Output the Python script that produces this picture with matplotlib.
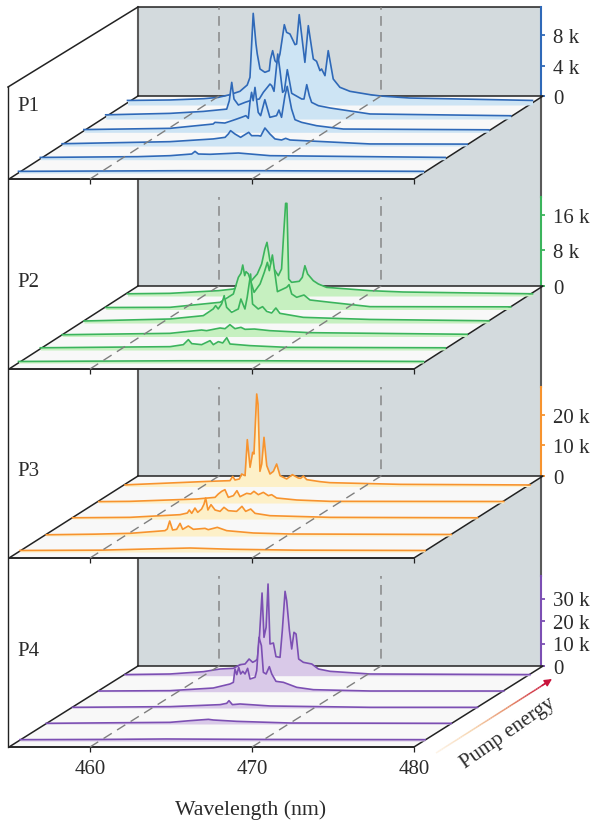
import numpy as np
import matplotlib
matplotlib.use('Agg')
import matplotlib.pyplot as plt
from matplotlib.collections import LineCollection
from matplotlib.colors import LinearSegmentedColormap
from matplotlib.transforms import Affine2D

plt.rcParams['font.family'] = ['Liberation Serif', 'DejaVu Serif']

W, H = 593, 829

# spectra: wavelength (nm) and counts (thousands), front trace first
p1_wl = [
    [455, 465, 470, 480],
    [455, 461, 463.01, 464.35, 464.55, 464.76, 465.48, 467.23, 469.18, 480],
    [455, 461.66, 464.33, 465.06, 465.26, 465.40, 465.67, 466.02, 466.35, 466.52, 466.70, 467.11, 467.26, 467.52,
     467.83, 468.14, 468.55, 468.80, 469.07, 474, 480],
    [455, 460.31, 462.98, 463.09, 463.70, 464.32, 464.73, 465.0, 465.15, 465.25, 465.35, 465.45, 465.56, 465.76,
     465.91, 466.17, 466.48, 466.89, 467.04, 467.20, 467.41, 467.55, 467.82, 468.03, 468.44, 469.36, 471.01, 480],
    [455, 458.97, 461.03, 462.47, 462.63, 462.78, 462.92, 463.19, 463.60, 463.91, 464.48, 464.73, 464.98, 465.14,
     465.25, 465.39, 465.62, 465.76, 465.92, 466.03, 466.21, 466.34, 466.48, 467.10, 467.24, 467.41, 467.57, 467.71,
     468.13, 468.85, 471.32, 480],
    [455, 457.62, 459.7, 460.6, 461.32, 461.94, 462.39, 462.56, 462.76, 462.93, 463.01, 463.18, 463.48, 463.75,
     463.83, 463.96, 464.10, 464.25, 464.41, 464.68, 464.82, 465.03, 465.34, 465.44, 465.60, 465.95, 466.16, 466.47,
     466.67, 466.88, 466.98, 467.19, 467.39, 467.70, 468.11, 468.73, 469.97, 470.65, 472.4, 480],
]
p1_k = [
    [0.22, 0.3, 0.3, 0.22],
    [0.3, 0.4, 0.53, 0.75, 1.10, 0.75, 0.71, 0.88, 0.53, 0.3],
    [0.3, 0.57, 0.93, 1.14, 1.58, 2.02, 1.58, 1.14, 1.58, 1.80, 1.36, 1.36, 1.30, 2.37,
     1.58, 0.93, 0.79, 1.01, 0.79, 0.27, 0.25],
    [0.36, 0.52, 1.09, 1.31, 1.22, 1.66, 1.97, 2.19, 1.84, 3.94, 5.26, 4.16, 5.91, 2.62,
     2.19, 4.29, 1.97, 2.19, 2.93, 1.97, 4.82, 6.05, 3.06, 1.66, 1.31, 0.87, 0.43, 0.33],
    [0.55, 0.74, 1.0, 1.3, 2.41, 4.82, 2.63, 1.84, 2.19, 2.41, 2.63, 3.51, 4.17, 4.60,
     4.38, 3.64, 8.55, 6.36, 3.51, 3.73, 6.49, 5.04, 3.38, 2.63, 2.63, 4.52, 3.07, 2.19,
     1.75, 1.45, 0.66, 0.43],
    [0.6, 0.66, 0.83, 1.0, 1.36, 1.8, 2.63, 3.64, 12.06, 8.03, 6.71, 4.74, 4.30, 4.52,
     6.05, 7.15, 5.83, 5.48, 6.71, 10.57, 9.56, 9.34, 7.94, 8.03, 11.89, 5.61, 10.44, 6.05,
     5.75, 4.52, 4.74, 3.86, 7.15, 3.42, 2.33, 1.80, 1.36, 1.18, 0.92, 0.6],
]

p2_wl = [
    [455, 465, 470, 480],
    [455, 463.01, 463.83, 464.14, 464.35, 464.96, 465.48, 465.68, 465.99, 466.26, 466.51, 466.71, 467.95, 470.21, 480],
    [455, 461.66, 463.61, 463.92, 464.75, 465.06, 465.36, 465.67, 466.04, 466.29, 466.87, 467.83, 470.30, 480],
    [455, 460.31, 462.37, 462.98, 463.13, 463.29, 463.50, 463.66, 463.81, 464.12, 464.53, 464.69, 464.94, 465.08,
     465.29, 465.41, 465.76, 466.03, 466.28, 466.59, 466.85, 467.10, 468.54, 472.65, 480],
    [455, 458.97, 462.06, 462.88, 463.19, 463.35, 463.46, 463.58, 463.66, 463.81, 463.91, 464.16, 464.53, 464.79,
     464.98, 465.10, 465.29, 465.45, 465.60, 466.17, 466.32, 466.48, 466.79, 467.24, 467.61, 468.85, 471.32, 480],
    [455, 457.62, 460.62, 461.53, 462.56, 463.01, 463.28, 463.48, 463.61, 463.71, 463.79, 464.04, 464.31, 464.51,
     464.64, 464.76, 464.84, 464.95, 465.13, 465.60, 465.79, 465.95, 466.12, 466.47, 466.78, 467.29, 469.97, 472, 480],
]
p2_k = [
    [0.35, 0.5, 0.5, 0.35],
    [0.5, 0.75, 1.2, 2.33, 1.43, 1.2, 2.1, 1.2, 1.88, 1.58, 2.77, 1.35, 0.98, 0.60, 0.5],
    [0.4, 0.71, 1.46, 1.31, 1.91, 1.76, 2.66, 1.76, 2.06, 1.61, 1.68, 1.31, 0.86, 0.5],
    [0.45, 0.90, 1.65, 3.15, 3.90, 3.15, 4.27, 6.14, 3.52, 2.40, 3.15, 5.39, 3.15, 5.77,
     11.01, 4.27, 3.15, 3.67, 2.62, 2.25, 3.37, 2.17, 1.27, 0.8, 0.5],
    [0.45, 0.49, 1.62, 3.49, 7.23, 8.13, 10.0, 7.61, 8.51, 7.98, 6.86, 3.86, 5.74, 8.36,
     10.60, 8.73, 12.25, 7.98, 4.01, 4.99, 5.58, 3.49, 2.74, 3.26, 2.14, 1.62, 0.64, 0.6],
    [0.5, 0.6, 1.2, 1.57, 3.07, 4.94, 7.19, 10.56, 12.06, 9.81, 7.94, 6.07, 4.57, 6.07,
     13.93, 20.82, 20.82, 3.82, 3.07, 3.30, 4.19, 6.81, 4.94, 3.44, 2.70, 1.94, 1.20, 0.9, 0.5],
]

p3_wl = [
    [455, 460, 463, 465.5, 468, 472, 480],
    [455, 458, 460.17, 462.33, 462.47, 462.62, 462.80, 463.05, 463.26, 463.42, 463.77, 464.08, 464.80, 465.0,
     465.56, 466.14, 467.78, 470.05, 480],
    [455, 458.55, 461.64, 462.09, 462.21, 462.36, 462.56, 462.73, 462.97, 463.12, 463.22, 463.36, 463.55, 463.80,
     464.11, 464.35, 464.62, 465.13, 465.46, 465.69, 466.0, 466.27, 467.19, 470.9, 480],
    [455, 456.93, 461.04, 462.18, 462.38, 462.59, 462.79, 463.0, 463.31, 463.53, 463.72, 464.13, 464.38, 464.58,
     464.85, 465.16, 465.47, 465.67, 465.98, 467.22, 469.28, 480],
    [455, 455.31, 460.25, 461.48, 461.65, 461.79, 462.06, 462.20, 462.41, 462.55, 462.72, 462.88, 462.96, 463.13,
     463.21, 463.33, 463.44, 463.58, 463.75, 463.95, 464.16, 464.36, 464.57, 464.98, 465.33, 465.70, 465.84, 466.01,
     466.22, 467.04, 467.65, 472, 480],
]
p3_k = [
    [0.5, 0.6, 1.0, 1.3, 0.9, 0.6, 0.5],
    [0.4, 0.6, 0.87, 1.74, 2.28, 4.89, 1.95, 2.17, 4.12, 2.17, 3.26, 2.17, 2.49, 2.06,
     2.82, 1.74, 0.98, 0.65, 0.5],
    [0.4, 0.54, 1.41, 1.95, 2.93, 1.84, 3.58, 2.17, 3.25, 4.88, 6.84, 2.93, 4.67, 2.93,
     2.49, 3.80, 2.71, 2.49, 4.12, 2.49, 3.25, 1.84, 1.08, 0.54, 0.4],
    [0.45, 0.54, 1.30, 1.84, 2.93, 3.80, 4.34, 1.84, 2.39, 4.02, 2.06, 3.15, 2.93, 3.80,
     2.71, 3.47, 2.39, 2.71, 1.63, 0.98, 0.54, 0.5],
    [0.5, 0.60, 1.69, 1.90, 3.31, 2.12, 2.45, 4.07, 3.53, 15.26, 6.25, 11.13, 10.59, 30.13,
     26.9, 4.94, 7.33, 16.02, 6.79, 4.07, 4.94, 7.33, 3.53, 2.45, 3.86, 2.77, 2.66, 3.42,
     2.23, 1.58, 1.25, 0.7, 0.5],
]

p4_wl = [
    [455, 460, 464, 470, 480],
    [455, 462.64, 463.87, 465.01, 465.31, 466.76, 470.05, 480],
    [455, 461.02, 464.11, 464.52, 464.66, 464.87, 465.34, 467.19, 473.37, 480],
    [455, 459.40, 462.07, 463.10, 463.31, 463.41, 463.52, 463.64, 463.76, 463.89, 464.03, 464.19, 464.34, 464.65,
     464.75, 464.89, 465.04, 465.16, 465.33, 465.53, 465.68, 465.94, 466.40, 467.22, 468.25, 471.75, 480],
    [455, 457.78, 459.84, 460.87, 461.69, 462.10, 462.41, 462.66, 462.88, 463.07, 463.17, 463.29, 463.46, 463.58,
     463.71, 463.83, 463.95, 464.16, 464.32, 464.57, 464.71, 464.88, 464.98, 465.15, 465.29, 465.43, 465.56, 465.72,
     466.01, 466.53, 466.94, 467.66, 470.13, 480],
]
p4_k = [
    [0.6, 0.7, 0.9, 0.7, 0.6],
    [0.3, 0.74, 1.48, 2.07, 1.78, 1.18, 0.44, 0.3],
    [0.3, 0.60, 1.49, 2.08, 3.26, 1.49, 1.79, 0.90, 0.30, 0.3],
    [0.3, 0.46, 1.64, 3.42, 4.16, 10.09, 7.57, 10.83, 7.87, 9.05, 7.87, 10.39, 5.64, 6.38,
     9.35, 24.16, 20.46, 8.61, 7.87, 11.13, 7.87, 4.61, 4.16, 1.94, 0.90, 0.31, 0.3],
    [0.5, 0.76, 1.79, 2.98, 3.27, 4.90, 5.2, 7.42, 5.94, 6.68, 7.42, 16.31, 36.76, 17.05,
     21.5, 40.76, 14.09, 14.53, 8.46, 8.16, 20.0, 37.5, 33.35, 20.0, 11.87, 19.27, 18.53, 7.42,
     5.94, 5.2, 2.98, 1.94, 0.76, 0.5],
]

panel_names = ['P1', 'P2', 'P3', 'P4']
z_ticks = [[0, 4, 8], [0, 8, 16], [0, 10, 20], [0, 10, 20, 30]]
x_ticks = [460, 470, 480]
guide_wl = [460, 470]
line_colors = ['#2f69b8', '#3bb45c', '#f7932e', '#7c4fb3']
fill_colors = ['#cde4f4', '#c6f0c0', '#fdf0c8', '#d9c9e8']
all_wl = [p1_wl, p2_wl, p3_wl, p4_wl]
all_k = [p1_k, p2_k, p3_k, p4_k]

# layout in pixels
front_y = [180, 370, 559, 748]
floor_y = [97, 287, 477, 667]
wall_top = [8, 198, 388, 577]
px_per_k = [7.6, 4.45, 3.07, 2.25]
trace_dx = [[9.5 + 21.8 * i for i in range(6)],
            [9.5 + 21.8 * i for i in range(6)],
            [11 + 26.25 * i for i in range(5)],
            [11 + 26.25 * i for i in range(5)]]
trace_dy = [[6, 19.3, 33, 46.7, 60, 74],
            [6, 19, 32.5, 46, 59.5, 73],
            [6, 22, 39, 55, 71.5],
            [6, 23, 39, 55.3, 71.3]]
left_x, right_x = 9, 414
back_left, back_right = 138, 541
px_per_nm = (right_x - left_x) / 25
WALL = '#d3dadd'
EDGE = '#5a5a5a'
DARK = '#222222'
TEXT = '#2b2b2b'
FS = 15


def box(x0, x1, y_top, y_bottom):
    return [x0 / W, 1 - y_bottom / H, (x1 - x0) / W, (y_bottom - y_top) / H]


fig = plt.figure(figsize=(W / 100, H / 100), dpi=100)

# back wall and outer frame
bg = fig.add_axes([0, 0, 1, 1], zorder=0)
bg.set_xlim(0, W)
bg.set_ylim(H, 0)
bg.axis('off')
bg.fill_between([back_left, back_right], wall_top[0], floor_y[-1], color=WALL, lw=0)
bg.plot([back_left, back_left], [wall_top[0], floor_y[-1]], color=EDGE, lw=1.5)
bg.plot([left_x - 1, left_x - 1], [88, front_y[-1]], color=DARK, lw=1)
bg.plot([left_x - 1, back_left, back_right], [88, wall_top[0], wall_top[0]], color=DARK, lw=1.1)
for i in range(3):
    bg.plot([back_right, back_right], [floor_y[i], wall_top[i + 1]], color=EDGE, lw=1.5)

for i in range(4):
    top_k = (front_y[i] - wall_top[i]) / px_per_k[i]
    floor_k = (front_y[i] - floor_y[i]) / px_per_k[i]
    shift = (back_left - left_x) / px_per_nm

    # count axis on the back wall
    az = fig.add_axes(box(back_left, back_right, wall_top[i], floor_y[i]), zorder=1)
    az.patch.set_visible(False)
    az.set_xticks([])
    az.set_ylim(0, (floor_y[i] - wall_top[i]) / px_per_k[i])
    az.yaxis.tick_right()
    az.set_yticks(z_ticks[i])
    az.set_yticklabels([f'{v} k' if v else '0' for v in z_ticks[i]], fontsize=FS, color=TEXT)
    az.tick_params(axis='y', color=line_colors[i], length=3, width=1.3, pad=5.5)
    for s in ['top', 'left', 'bottom']:
        az.spines[s].set_visible(False)
    az.spines['right'].set_color(line_colors[i])
    az.spines['right'].set_linewidth(1.5)

    # front axis, the floor is skewed back from it
    ax = fig.add_axes(box(left_x, right_x, wall_top[i], front_y[i]), zorder=2)
    ax.patch.set_visible(False)
    ax.set_xlim(455, 480)
    ax.set_ylim(0, top_k)
    ax.set_yticks([])
    ax.set_xticks(x_ticks)
    if i == 3:
        ax.set_xticklabels([str(v) for v in x_ticks], fontsize=FS, color=TEXT)
    else:
        ax.set_xticklabels([])
    ax.tick_params(axis='x', length=3.5, width=0.9, color=DARK, pad=5)
    for s in ['top', 'left', 'right']:
        ax.spines[s].set_visible(False)
    ax.spines['bottom'].set_color(DARK)
    ax.spines['bottom'].set_linewidth(1.1)

    ax.fill([455, 480, 480 + shift, 455 + shift], [0, 0, floor_k, floor_k],
            facecolor='#f8f8f8', edgecolor='none', clip_on=False, zorder=1)
    ax.plot([455 + shift, 480 + shift, 480, 455], [floor_k, floor_k, 0, 0],
            color=DARK, lw=1.1, clip_on=False, zorder=1.5)
    ax.plot([455, 455 + shift], [0, floor_k], color=DARK, lw=1.1, clip_on=False, zorder=1.5)

    # back trace first so the nearer ones cover it
    for j in reversed(range(len(all_wl[i]))):
        tr = ax.transData + Affine2D().translate(trace_dx[i][j], trace_dy[i][j])
        z = 2 + (len(all_wl[i]) - j) * 0.1
        ax.fill_between(all_wl[i][j], 0, all_k[i][j], transform=tr, color=fill_colors[i],
                        lw=0, clip_on=False, zorder=z)
        ax.plot(all_wl[i][j], all_k[i][j], transform=tr, color=line_colors[i], lw=1.2,
                clip_on=False, zorder=z + 0.01, solid_joinstyle='round')

    # dashed guides, over the floor then up the wall
    for wl in guide_wl:
        ax.plot([wl, wl + shift, wl + shift], [0, floor_k, top_k], color='#7f7f7f', lw=1,
                dashes=(7, 4.5), clip_on=False, zorder=4)

    ax.text(17, (floor_y[i] + [9, -5, -5, -16][i]), panel_names[i], fontsize=FS, color=TEXT,
            ha='left', va='center', transform=bg.transData)

# pump energy arrow
arrow_x = np.linspace(436, 547, 60)
arrow_y = np.linspace(754, 683.5, 60)
pts = np.column_stack([arrow_x, arrow_y]).reshape(-1, 1, 2)
segs = np.concatenate([pts[:-1], pts[1:]], axis=1)
cmap = LinearSegmentedColormap.from_list('pump', ['#fdf3e6', '#f6d3ad', '#e58a66', '#c9143c'])
lc = LineCollection(segs, cmap=cmap, array=np.linspace(0, 1, 59), linewidths=1.1)
bg.add_collection(lc)
bg.annotate('', xy=(552, 680), xytext=(542, 686.5),
            arrowprops=dict(arrowstyle='-|>', color='#c9143c', lw=1, mutation_scale=11, shrinkA=0, shrinkB=0))
bg.text(508, 733, 'Pump energy', fontsize=FS, color=TEXT, rotation=35, ha='center', va='center',
        rotation_mode='anchor')
bg.text(251, 810, 'Wavelength (nm)', fontsize=15.7, color=TEXT, ha='center', va='center')

fig.savefig('out.png', dpi=100)
